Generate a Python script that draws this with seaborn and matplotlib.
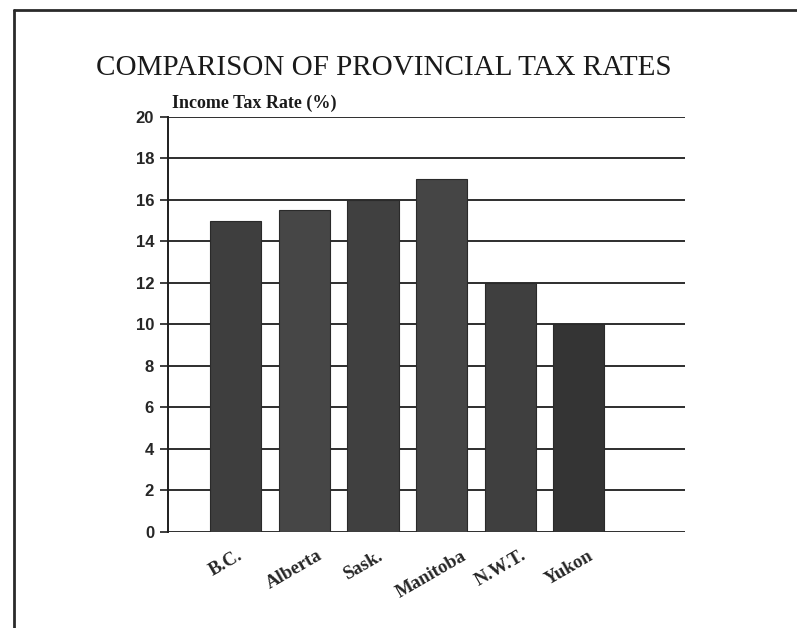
import matplotlib
matplotlib.use("Agg")
import matplotlib.pyplot as plt
import matplotlib.transforms as mtransforms
from matplotlib.lines import Line2D
import seaborn as sns
import pandas as pd

provinces = ["B.C.", "Alberta", "Sask.", "Manitoba", "N.W.T.", "Yukon"]
tax_rates = [15.0, 15.5, 16.0, 17.0, 12.0, 10.0]
y_ticks = [0, 2, 4, 6, 8, 10, 12, 14, 16, 18, 20]

sns.set_theme(style="white")
plt.rcParams["font.family"] = ["Liberation Serif", "DejaVu Serif"]

df = pd.DataFrame({"province": provinces, "rate": tax_rates})

fig = plt.figure(figsize=(7.97, 6.28), dpi=100)
fig.patch.set_facecolor("white")
ax = fig.add_axes([0.2108, 0.1529, 0.6487, 0.6608])

bar_colors = ["#3e3e3e", "#464646", "#404040", "#454545", "#3f3f3f", "#343434"]
sns.barplot(data=df, x="province", y="rate", hue="province", palette=bar_colors,
            legend=False, width=0.745, saturation=1, ax=ax, zorder=3,
            edgecolor="#2a2a2a", linewidth=0.8)

ax.set_ylim(0, 20)
ax.set_xlim(-0.99, 6.55)
ax.set_yticks(y_ticks)
ax.set_yticklabels([str(t) for t in y_ticks], family=["Liberation Sans", "DejaVu Sans"],
                   fontweight="bold", fontsize=12)
for t in y_ticks:
    ax.axhline(t, color="#1e1e1e", lw=1.3, zorder=1)

ax.tick_params(axis="y", which="major", left=True, length=6, width=1.2,
               color="#1e1e1e", pad=4, direction="out")
ax.tick_params(axis="x", bottom=False, pad=5)
for side in ["top", "right", "bottom"]:
    ax.spines[side].set_visible(False)
ax.spines["left"].set_color("#1e1e1e")
ax.spines["left"].set_linewidth(1.4)
ax.set_xlabel("")
ax.set_ylabel("")

shift = mtransforms.ScaledTranslation(-10 / 100, 0, fig.dpi_scale_trans)
ax.set_xticks(range(len(provinces)))
ax.set_xticklabels(provinces, rotation=30, ha="center", va="top",
                   fontweight="bold", fontsize=13.5)
for lbl in ax.get_xticklabels():
    lbl.set_transform(lbl.get_transform() + shift)

fig.text(384 / 797, 1 - 75 / 628, "COMPARISON OF PROVINCIAL TAX RATES", ha="center",
         va="baseline", fontsize=21, color="#1a1a1a")
fig.text(172 / 797, 1 - 108 / 628, "Income Tax Rate (%)", ha="left",
         va="baseline", fontsize=13, fontweight="bold", color="#1a1a1a")

# page frame: rule across the top and down the left edge
fig.add_artist(Line2D([14 / 797, 1.0], [1 - 10 / 628, 1 - 10 / 628],
                      transform=fig.transFigure, color="#2a2a2a", lw=2))
fig.add_artist(Line2D([14 / 797, 14 / 797], [0.0, 1 - 10 / 628],
                      transform=fig.transFigure, color="#2a2a2a", lw=2))

fig.savefig("out.png", dpi=100)
